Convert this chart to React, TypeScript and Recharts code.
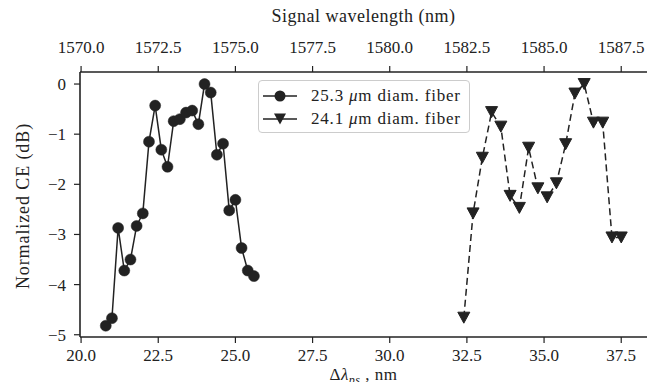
import { Line, LineChart, XAxis, YAxis } from 'recharts'

const fiber253X = [
  20.8, 21.0, 21.2, 21.4, 21.6, 21.8, 22.0, 22.2, 22.4, 22.6, 22.8, 23.0, 23.2,
  23.4, 23.6, 23.8, 24.0, 24.2, 24.4, 24.6, 24.8, 25.0, 25.2, 25.4, 25.6,
]
const fiber253Y = [
  -4.82, -4.67, -2.87, -3.72, -3.5, -2.83, -2.58, -1.15, -0.43, -1.31, -1.65,
  -0.74, -0.7, -0.57, -0.53, -0.8, 0, -0.17, -1.41, -1.19, -2.52, -2.31, -3.27,
  -3.72, -3.83,
]
const fiber241X = [
  32.4, 32.7, 33.0, 33.3, 33.6, 33.9, 34.2, 34.5, 34.8, 35.1, 35.4, 35.7, 36.0,
  36.3, 36.6, 36.9, 37.2, 37.5,
]
const fiber241Y = [
  -4.66, -2.58, -1.47, -0.56, -0.85, -2.23, -2.47, -1.27, -2.08, -2.26, -1.98,
  -1.2, -0.19, 0, -0.77, -0.77, -3.06, -3.06,
]
const seriesNames = ['25.3', '24.1']

const xTicks = [20, 22.5, 25, 27.5, 30, 32.5, 35, 37.5]
const xTickLabels = ['20.0', '22.5', '25.0', '27.5', '30.0', '32.5', '35.0', '37.5']
const topTickLabels = [
  '1570.0', '1572.5', '1575.0', '1577.5', '1580.0', '1582.5', '1585.0', '1587.5',
]
const yTicks = [0, -1, -2, -3, -4, -5]
const yTickLabels = ['0', '−1', '−2', '−3', '−4', '−5']

const ink = '#222222'
const font = 'Liberation Serif'

const data253 = fiber253X.map((x, i) => ({ x, y: fiber253Y[i] }))
const data241 = fiber241X.map((x, i) => ({ x, y: fiber241Y[i] }))

// matplotlib 'v' marker
function Triangle(props: any) {
  const { cx, cy, index } = props
  if (cx == null || cy == null) return null
  return (
    <polygon
      key={`tri-${index}`}
      points={`${cx - 6},${cy - 5.5} ${cx + 6},${cy - 5.5} ${cx},${cy + 5.5}`}
      fill={ink}
      stroke={ink}
      strokeWidth={1}
    />
  )
}

function LegendBox() {
  const rows = [
    { name: seriesNames[0], marker: <circle cx={17} cy={8} r={5.5} fill={ink} /> },
    { name: seriesNames[1], marker: <polygon points="11,2.5 23,2.5 17,13.5" fill={ink} /> },
  ]
  return (
    <div
      style={{
        position: 'absolute',
        left: 258,
        top: 80,
        width: 212,
        height: 53,
        border: '1px solid #cccccc',
        borderRadius: 4,
        background: 'rgba(255,255,255,0.8)',
        fontSize: 17,
        letterSpacing: 0.8,
        boxSizing: 'border-box',
        paddingTop: 3,
      }}
    >
      {rows.map((r) => (
        <div key={r.name} style={{ display: 'flex', alignItems: 'center', height: 23 }}>
          <svg width={36} height={16} style={{ marginLeft: 4, marginRight: 12 }}>
            <line x1={0} y1={8} x2={34} y2={8} stroke={ink} strokeWidth={1.5} />
            {r.marker}
          </svg>
          <span style={{ whiteSpace: 'nowrap' }}>
            {r.name} <i>μ</i>m diam. fiber
          </span>
        </div>
      ))}
    </div>
  )
}

export default function App() {
  const tickStyle = { fill: ink, fontSize: 17, fontFamily: font }
  const axisLine = { stroke: ink, strokeWidth: 1.6 }
  const tickLine = { stroke: ink, strokeWidth: 1.2 }
  return (
    <div
      style={{
        position: 'relative',
        width: 657,
        height: 390,
        margin: -8,
        fontFamily: font,
        color: ink,
      }}
    >
      <LineChart
        width={657}
        height={390}
        margin={{ top: 32, right: 10, bottom: 23, left: 30 }}
        style={{ fontFamily: font }}
      >
        <XAxis
          dataKey="x"
          type="number"
          domain={[19.965, 38.335]}
          ticks={xTicks}
          tickFormatter={(_v, i) => xTickLabels[i]}
          allowDataOverflow
          height={30}
          tickSize={6}
          tickMargin={6}
          tick={tickStyle}
          axisLine={axisLine}
          tickLine={tickLine}
        />
        <XAxis
          xAxisId="top"
          orientation="top"
          dataKey="x"
          type="number"
          domain={[19.965, 38.335]}
          ticks={xTicks}
          tickFormatter={(_v, i) => topTickLabels[i]}
          allowDataOverflow
          height={40}
          tickSize={6}
          tickMargin={13}
          tick={tickStyle}
          axisLine={axisLine}
          tickLine={tickLine}
        />
        <YAxis
          type="number"
          domain={[-5.045, 0.24]}
          ticks={yTicks}
          tickFormatter={(_v, i) => yTickLabels[i]}
          allowDataOverflow
          width={50}
          tickSize={6}
          tickMargin={8}
          tick={tickStyle}
          axisLine={axisLine}
          tickLine={tickLine}
        />
        <YAxis
          yAxisId="right"
          orientation="right"
          width={0}
          tick={false}
          tickLine={false}
          axisLine={axisLine}
        />
        <Line
          data={data253}
          dataKey="y"
          stroke={ink}
          strokeWidth={1.5}
          dot={{ r: 5.5, fill: ink, stroke: ink, strokeWidth: 0.5 }}
          isAnimationActive={false}
        />
        <Line
          data={data241}
          dataKey="y"
          stroke={ink}
          strokeWidth={1.5}
          strokeDasharray="7 4"
          dot={(p: any) => <Triangle {...p} />}
          isAnimationActive={false}
        />
      </LineChart>
      <LegendBox />
      <div
        style={{
          position: 'absolute',
          left: 80,
          width: 567,
          top: 6,
          textAlign: 'center',
          fontSize: 18,
          letterSpacing: 0.5,
        }}
      >
        Signal wavelength (nm)
      </div>
      <div
        style={{
          position: 'absolute',
          left: 80,
          width: 567,
          top: 366,
          lineHeight: '17px',
          textAlign: 'center',
          fontSize: 17,
          letterSpacing: 0.5,
        }}
      >
        Δ<i>λ</i>
        <sub style={{ fontSize: 12, lineHeight: 0 }}>
          <i>ps</i>
        </sub>{' '}
        , nm
      </div>
      <div
        style={{
          position: 'absolute',
          left: 23,
          top: 206,
          fontSize: 18,
          letterSpacing: 0.9,
          whiteSpace: 'nowrap',
          transform: 'translate(-50%, -50%) rotate(-90deg)',
        }}
      >
        Normalized CE (dB)
      </div>
    </div>
  )
}
